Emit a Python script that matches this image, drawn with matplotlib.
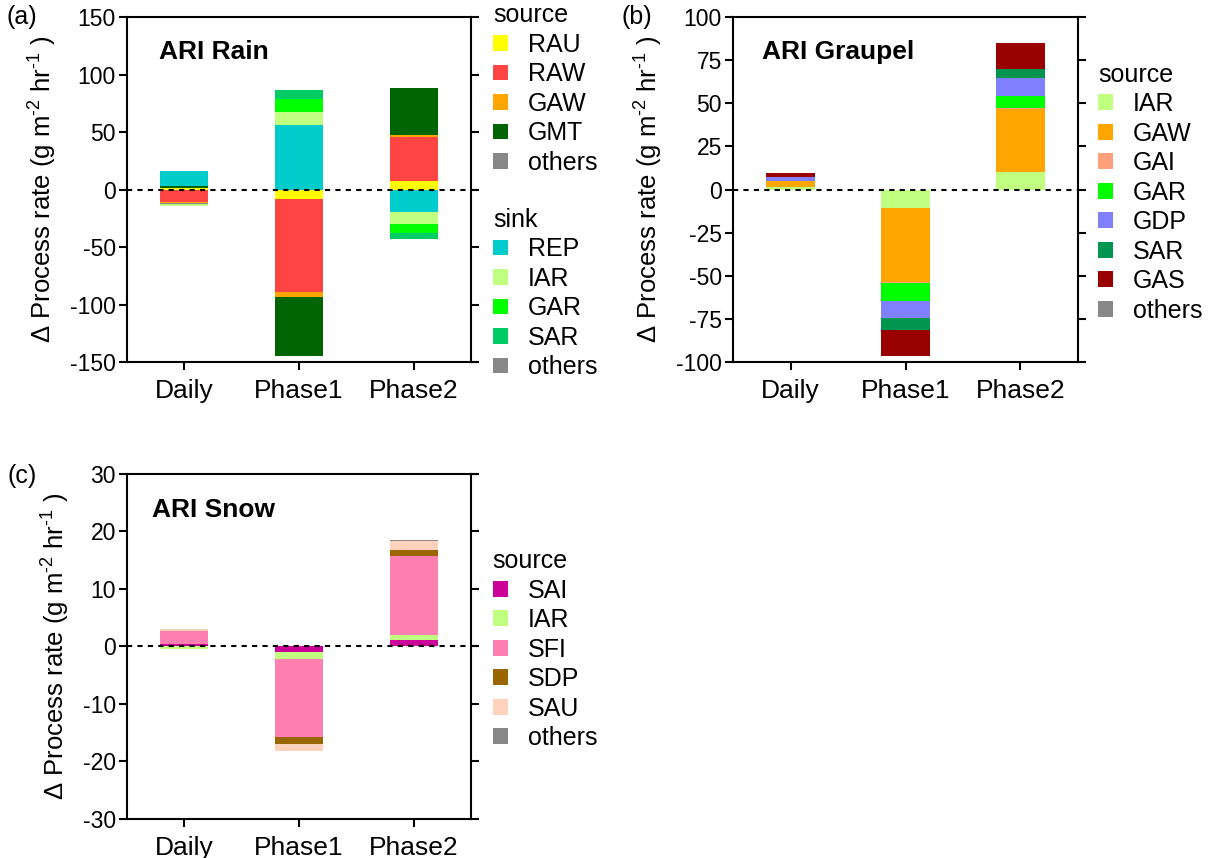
import numpy as np
import matplotlib
matplotlib.use("Agg")
import matplotlib.pyplot as plt
from matplotlib.patches import Patch

plt.rcParams['font.family'] = ['Liberation Sans', 'DejaVu Sans']
plt.rcParams['mathtext.fontset'] = 'custom'
plt.rcParams['mathtext.rm'] = 'Liberation Sans'
plt.rcParams['mathtext.default'] = 'regular'
plt.rcParams['axes.unicode_minus'] = False

categories = ["Daily", "Phase1", "Phase2"]

# Panel (a) ARI Rain
rain_source_labels = ["RAU", "RAW", "GAW", "GMT", "others"]
rain_source_colors = ["#FFFF00", "#FF4444", "#FFA500", "#006400", "#888888"]
rain_RAU = [1.2, -8.1, 7.3]
rain_RAW = [-11.0, -81.1, 38.0]
rain_GAW = [-0.5, -4.4, 2.0]
rain_GMT = [2.0, -50.9, 40.7]
rain_src_others = [-0.8, 0.0, 0.0]
rain_sink_labels = ["REP", "IAR", "GAR", "SAR", "others"]
rain_sink_colors = ["#00CCCC", "#C0FF80", "#00FF00", "#00CC66", "#888888"]
rain_REP = [13.0, 56.4, -19.2]
rain_IAR = [-1.6, 11.0, -11.0]
rain_GAR = [0.0, 11.6, -7.3]
rain_SAR = [0.0, 7.8, -5.8]
rain_sink_others = [0.0, 0.0, 0.0]

# Panel (b) ARI Graupel
gr_labels = ["IAR", "GAW", "GAI", "GAR", "GDP", "SAR", "GAS", "others"]
gr_colors = ["#C0FF80", "#FFA500", "#FFA07A", "#00FF00", "#8080FF", "#009650", "#990000", "#888888"]
gr_IAR = [1.7, -10.4, 10.2]
gr_GAW = [3.3, -43.0, 36.6]
gr_GAI = [0.0, -0.5, 0.4]
gr_GAR = [0.0, -10.6, 7.3]
gr_GDP = [2.3, -10.2, 10.0]
gr_SAR = [0.0, -6.9, 5.4]
gr_GAS = [2.3, -15.0, 15.2]
gr_others = [0.0, 0.0, 0.0]

# Panel (c) ARI Snow
sn_labels = ["SAI", "IAR", "SFI", "SDP", "SAU", "others"]
sn_colors = ["#CC0099", "#C0FF80", "#FF80B0", "#996600", "#FFD2BE", "#888888"]
sn_SAI = [0.35, -1.0, 1.2]
sn_IAR = [-0.4, -1.2, 0.87]
sn_SFI = [2.3, -13.5, 13.6]
sn_SDP = [0.0, -1.33, 1.04]
sn_SAU = [0.45, -1.16, 1.57]
sn_others = [0.0, 0.0, 0.23]

FS_TICK = 16.5
FS = 18
W = 0.42

fig = plt.figure(figsize=(12.13, 8.58), dpi=100)
ax_a = fig.add_axes([0.1047, 0.578, 0.2836, 0.4021])
ax_b = fig.add_axes([0.6043, 0.578, 0.2844, 0.4021])
ax_c = fig.add_axes([0.1047, 0.0455, 0.2836, 0.4021])


def stack(ax, series, colors):
    x = np.arange(len(categories))
    pos = np.zeros(len(categories))
    neg = np.zeros(len(categories))
    for vals, c in zip(series, colors):
        v = np.asarray(vals, dtype=float)
        bottom = np.where(v >= 0, pos, neg)
        ax.bar(x, v, width=W, bottom=bottom, color=c, linewidth=0)
        pos = pos + np.where(v >= 0, v, 0)
        neg = neg + np.where(v < 0, v, 0)


def style(ax, ylim, yticks, title, tx, ty):
    ax.set_xlim(-0.5, 2.5)
    ax.set_ylim(*ylim)
    ax.set_yticks(yticks)
    ax.set_xticks(range(len(categories)))
    ax.set_xticklabels(categories, fontsize=19)
    ax.tick_params(axis='y', labelsize=FS_TICK, direction='out', length=6, width=1.5,
                   right=True, labelright=False, pad=2)
    ax.tick_params(axis='x', direction='out', length=6, width=1.5, pad=6)
    for s in ax.spines.values():
        s.set_linewidth(1.5)
    ax.axhline(0, color='black', linestyle=(0, (2.5, 2.5)), linewidth=1.5, zorder=5)
    ax.text(tx, ty, title, transform=ax.transAxes, fontsize=19, fontweight='bold',
            ha='left', va='center')
    ax.set_ylabel(r"$\Delta$ Process rate (g m$^{\text{-}2}$ hr$^{\text{-}1}$ )", fontsize=18.5, labelpad=8)


def legend(ax, labels, colors, title, x, y, add=False):
    handles = [Patch(facecolor=c, edgecolor='none', label=l) for l, c in zip(labels, colors)]
    leg = ax.legend(handles=handles, title=title, loc='upper left', bbox_to_anchor=(x, y),
                    frameon=False, fontsize=FS, title_fontsize=FS, alignment='left',
                    handlelength=0.6, handleheight=0.6, handletextpad=0.8,
                    labelspacing=0.22, borderaxespad=0, borderpad=0)
    if add:
        ax.add_artist(leg)
    return leg


# (a)
stack(ax_a, [rain_RAU, rain_RAW, rain_GAW, rain_GMT, rain_src_others,
             rain_REP, rain_IAR, rain_GAR, rain_SAR, rain_sink_others],
      rain_source_colors + rain_sink_colors)
style(ax_a, (-150, 150), [-150, -100, -50, 0, 50, 100, 150], "ARI Rain", 0.093, 0.899)
legend(ax_a, rain_source_labels, rain_source_colors, "source", 1.064, 1.04, add=True)
legend(ax_a, rain_sink_labels, rain_sink_colors, "sink", 1.064, 0.447)

# (b)
stack(ax_b, [gr_IAR, gr_GAW, gr_GAI, gr_GAR, gr_GDP, gr_SAR, gr_GAS, gr_others], gr_colors)
style(ax_b, (-100, 100), [-100, -75, -50, -25, 0, 25, 50, 75, 100], "ARI Graupel", 0.083, 0.899)
legend(ax_b, gr_labels, gr_colors, "source", 1.058, 0.868)

# (c)
stack(ax_c, [sn_SAI, sn_IAR, sn_SFI, sn_SDP, sn_SAU, sn_others], sn_colors)
style(ax_c, (-30, 30), [-30, -20, -10, 0, 10, 20, 30], "ARI Snow", 0.072, 0.896)
legend(ax_c, sn_labels, sn_colors, "source", 1.063, 0.782)

fig.text(22 / 1213, 1 - 17 / 858, "(a)", fontsize=FS, ha='center', va='center')
fig.text(637 / 1213, 1 - 17 / 858, "(b)", fontsize=FS, ha='center', va='center')
fig.text(22 / 1213, 1 - 476 / 858, "(c)", fontsize=FS, ha='center', va='center')

fig.savefig("out.png", dpi=100)
